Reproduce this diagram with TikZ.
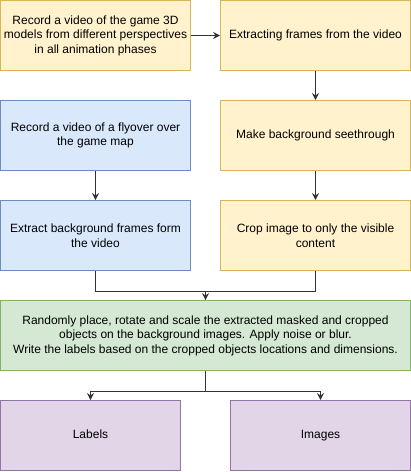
\documentclass[tikz,border=0pt]{standalone}
\usepackage{fontspec}
\setmainfont{Liberation Sans}
\usetikzlibrary{arrows.meta}
\definecolor{yfill}{HTML}{FFF2CC}\definecolor{ydraw}{HTML}{D6B656}
\definecolor{bfill}{HTML}{DAE8FC}\definecolor{bdraw}{HTML}{6C8EBF}
\definecolor{gfill}{HTML}{D5E8D4}\definecolor{gdraw}{HTML}{82B366}
\definecolor{pfill}{HTML}{E1D5E7}\definecolor{pdraw}{HTML}{9673A6}
\definecolor{edgec}{HTML}{333333}
\begin{document}
\begin{tikzpicture}[x=1pt,y=-1pt,
  box/.style={draw, line width=1pt, minimum height=70pt, inner sep=0pt, align=center,
    font=\fontsize{12}{14.5}\selectfont},
  ybox/.style={box, fill=yfill, draw=ydraw, minimum width=190pt},
  bbox/.style={box, fill=bfill, draw=bdraw, minimum width=190pt},
  gbox/.style={box, fill=gfill, draw=gdraw, minimum width=410pt},
  pbox/.style={box, fill=pfill, draw=pdraw, minimum width=180pt, text height=9pt, text depth=3pt},
  conn/.style={draw=edgec, line width=1pt, -{Stealth[length=7pt,width=7pt,inset=2.5pt]}},
  plain/.style={draw=edgec, line width=1pt}]
\useasboundingbox (0,0) rectangle (411,472);
\node[ybox] (A) at (95.5,35.5) {Record a video of the game 3D\\models from different perspectives\\in all animation phases};
\node[ybox] (B) at (315.5,35.5) {Extracting frames from the video};
\node[bbox] (C) at (95.5,135.5) {Record a video of a flyover over\\the game map};
\node[ybox] (D) at (315.5,135.5) {Make background seethrough};
\node[bbox] (E) at (95.5,235.5) {Extract background frames form\\the video};
\node[ybox] (F) at (315.5,235.5) {Crop image to only the visible\\content};
\node[gbox] (G) at (205.5,335.5) {Randomly place, rotate and scale the extracted masked and cropped\\objects on the background images. Apply noise or blur.\\Write the labels based on the cropped objects locations and dimensions.};
\node[pbox] (H) at (90.5,435.5) {Labels};
\node[pbox] (I) at (320.5,435.5) {Images};
\path[conn] (A) -- (B);
\path[conn] (B) -- (D);
\path[conn] (D) -- (F);
\path[conn] (C) -- (E);
\path[plain] (E.south) -- ++(0,20) -| (G.north);
\path[conn] (F.south) -- ++(0,20) -| (G.north);
\path[conn] (G.south) -- ++(0,20) -| (H.north);
\path[conn] (G.south) -- ++(0,20) -| (I.north);
\end{tikzpicture}
\end{document}
